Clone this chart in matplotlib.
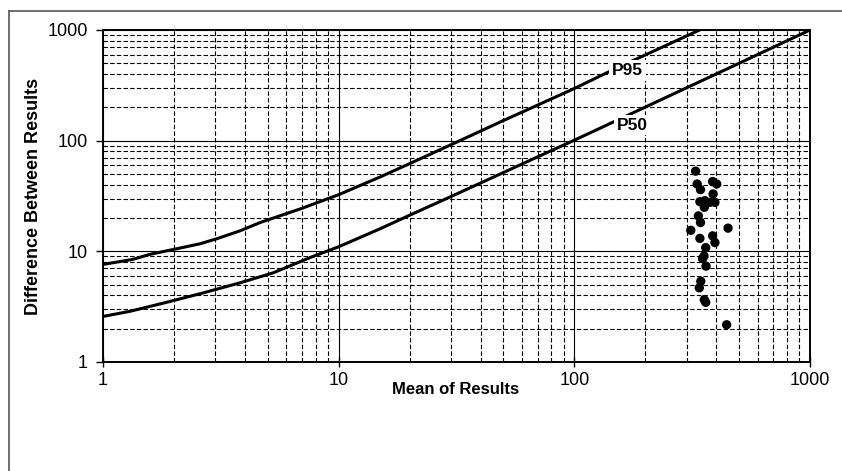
import matplotlib
matplotlib.use("Agg")
import matplotlib.pyplot as plt
from matplotlib.lines import Line2D

plt.rcParams["font.family"] = ["Liberation Sans", "DejaVu Sans"]

# percentile curves (mean -> difference)
p50_x = [1, 1.3, 1.86, 2.66, 3.81, 5.28, 7.55, 10, 15, 20, 30, 50, 70, 100, 150, 200, 300, 500, 700, 1000]
p50_y = [2.58, 2.87, 3.46, 4.21, 5.19, 6.4, 8.77, 11.0, 16.0, 21.2, 31.3, 51.5, 71.5, 101, 151, 201, 301, 500, 700, 1000]
p95_x = [1, 1.34, 1.58, 1.99, 2.58, 3.04, 3.81, 4.64, 7, 10, 15, 20, 30, 50, 70, 100, 150, 200, 250, 340, 400]
p95_y = [7.62, 8.46, 9.39, 10.4, 11.7, 13.0, 15.3, 18.2, 24.5, 32.5, 47, 62, 92, 152, 210, 296, 450, 595, 740, 1000, 1180]

# observed pairs
mean_res = [327, 332, 343, 386, 402, 388, 341, 358, 356, 376, 395, 336, 343, 312,
            341, 386, 395, 361, 355, 350, 362, 344, 339, 356, 361, 443, 449]
diff_res = [53, 40.6, 36.1, 42.7, 40.6, 33, 28.1, 28.7, 25, 27.7, 27.7, 20.9, 18.2, 15.5,
            13.1, 13.8, 12, 10.8, 9.06, 8.6, 7.35, 5.37, 4.68, 3.66, 3.46, 2.17, 16.2]

ticks = [1, 10, 100, 1000]
tick_labels = ["1", "10", "100", "1000"]

fig = plt.figure(figsize=(8.42, 4.71), dpi=100)
ax = fig.add_axes([103 / 842, 1 - 362 / 471, 707 / 842, 332 / 471])

ax.set_xscale("log")
ax.set_yscale("log")
ax.set_xlim(1, 1000)
ax.set_ylim(1, 1000)

ax.grid(True, which="major", color="black", linewidth=0.8, linestyle="-")
ax.grid(True, which="minor", color="black", linewidth=0.8, linestyle=(0, (4, 2)))
ax.set_axisbelow(True)

ax.plot(p95_x, p95_y, color="black", linewidth=2.2, solid_capstyle="butt", zorder=3)
ax.plot(p50_x, p50_y, color="black", linewidth=2.2, solid_capstyle="butt", zorder=3)
ax.scatter(mean_res, diff_res, s=45, color="black", edgecolors="none", zorder=4)

box = dict(facecolor="white", edgecolor="none", pad=2)
ax.text(168, 430, "P95", fontsize=12.5, fontweight="bold", ha="center", va="center", bbox=box, zorder=5)
ax.text(176, 138, "P50", fontsize=12.5, fontweight="bold", ha="center", va="center", bbox=box, zorder=5)

ax.set_xticks(ticks)
ax.set_xticklabels(tick_labels)
ax.set_yticks(ticks)
ax.set_yticklabels(tick_labels)
ax.tick_params(which="minor", length=0)
ax.tick_params(axis="x", which="major", direction="inout", length=7, width=1, labelsize=13, pad=4)
ax.tick_params(axis="y", which="major", direction="out", length=5, width=1, labelsize=13, pad=6)

for sp in ax.spines.values():
    sp.set_linewidth(1.4)
    sp.set_zorder(6)

# axis titles sit close to the tick labels, as in the source chart
fig.text(456 / 842, 1 - 389 / 471, "Mean of Results", fontsize=12, fontweight="bold",
         ha="center", va="center")
fig.text(34 / 842, 1 - 196 / 471, "Difference Between Results", fontsize=13, fontweight="bold",
         ha="center", va="center", rotation=90)

# outer chart frame (only top and left edges fall inside the image)
fig.add_artist(Line2D([9 / 842, 1], [1 - 10.5 / 471] * 2, color="#555555", linewidth=1.2))
fig.add_artist(Line2D([9 / 842] * 2, [0, 1 - 10.5 / 471], color="#555555", linewidth=1.2))

fig.savefig("out.png", dpi=100)
